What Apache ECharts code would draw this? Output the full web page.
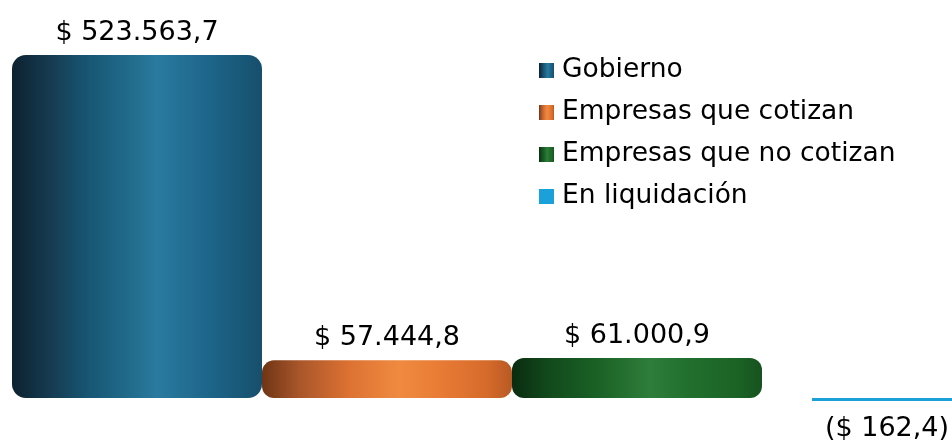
<!DOCTYPE html>
<html>
<head>
<meta charset="utf-8">
<script src="https://cdn.jsdelivr.net/npm/echarts@6/dist/echarts.min.js"></script>
<style>
  html, body { margin: 0; padding: 0; background: #fff; }
  #chart { width: 952px; height: 442px; }
</style>
</head>
<body>
<div id="chart"></div>
<script>
// datos
const categories = ['Gobierno', 'Empresas que cotizan', 'Empresas que no cotizan', 'En liquidación'];
const values = [523563.7, 57444.8, 61000.9, -162.4];

// gradientes tipo cilindro (izq -> der)
const stops = [
  [['#0c2230', 0], ['#163a50', 0.15], ['#175573', 0.3], ['#236f8f', 0.5], ['#2a7aa0', 0.58], ['#1c6488', 0.8], ['#174f6c', 1]],
  [['#6e3515', 0], ['#a9562a', 0.15], ['#dd7232', 0.35], ['#f08a40', 0.55], ['#e97d36', 0.7], ['#d66a2a', 0.9], ['#b85a25', 1]],
  [['#0a2c10', 0], ['#124a1c', 0.15], ['#1b6226', 0.35], ['#2e7d3a', 0.55], ['#22702e', 0.7], ['#1b6325', 0.9], ['#175220', 1]],
  [['#1ba1d9', 0], ['#1ba1d9', 1]]
];

function grad(s) {
  return new echarts.graphic.LinearGradient(0, 0, 1, 0,
    s.map(function (c) { return { offset: c[1], color: c[0] }; }));
}

function fmt(v) {
  const a = Math.abs(v).toFixed(1).split('.');
  const ent = a[0].replace(/\B(?=(\d{3})+(?!\d))/g, '.');
  const txt = '$ ' + ent + ',' + a[1];
  return v < 0 ? '(' + txt + ')' : txt;
}

const series = categories.map(function (name, i) {
  const data = categories.map(function (c, j) { return j === i ? values[i] : '-'; });
  return {
    name: name,
    type: 'bar',
    xAxisIndex: i === 3 ? 1 : 0,
    barGap: '-100%',
    barWidth: i === 3 ? 150 : 250,
    barMinHeight: i === 3 ? 3 : 0,
    data: data,
    itemStyle: {
      color: grad(stops[i]),
      borderRadius: i === 3 ? 0 : (i === 0 ? 14 : 12)
    },
    label: {
      show: true,
      position: values[i] < 0 ? 'bottom' : 'top',
      distance: values[i] < 0 ? 14 : 9,
      color: '#000',
      fontFamily: 'DejaVu Sans',
      fontSize: 27,
      formatter: function (p) { return fmt(p.value); }
    }
  };
});

const chart = echarts.init(document.getElementById('chart'));
chart.setOption({
  animation: false,
  grid: { left: 12, top: 50.8, width: 1000, bottom: 37.45, outerBoundsMode: 'none' },
  legend: {
    orient: 'vertical',
    left: 534,
    top: 52,
    itemWidth: 15,
    itemHeight: 15,
    itemGap: 15,
    icon: 'rect',
    textStyle: { fontFamily: 'DejaVu Sans', fontSize: 26.5, color: '#000', padding: [0, 0, 0, 3] },
    data: categories
  },
  xAxis: [
    { type: 'category', data: categories, show: false },
    { type: 'category', data: categories, show: false }
  ],
  yAxis: { type: 'value', min: -10000, max: 530000, show: false },
  series: series
});
</script>
</body>
</html>
